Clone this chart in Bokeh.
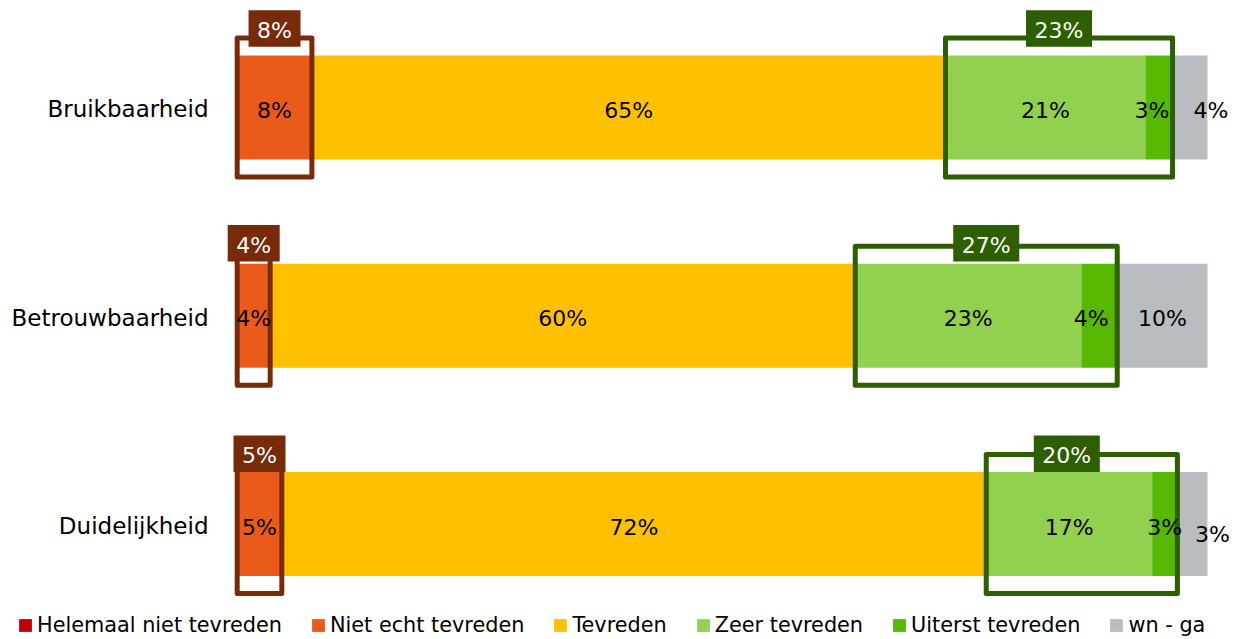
import numpy as np
from bokeh.plotting import figure
from bokeh.models import ColumnDataSource, Range1d
from bokeh.core.properties import value
from bokeh.embed import file_html
from bokeh.resources import INLINE

# ---------------- data ----------------
categories = ["Bruikbaarheid", "Betrouwbaarheid", "Duidelijkheid"]
series_names = ["Helemaal niet tevreden", "Niet echt tevreden", "Tevreden",
                "Zeer tevreden", "Uiterst tevreden", "wn - ga"]

helemaal_niet = [0.0, 0.0, 0.0]
niet_echt = [7.7, 3.4, 4.6]
tevreden = [65.3, 60.3, 72.6]
zeer = [20.6, 23.3, 17.1]
uiterst = [2.8, 3.7, 2.6]
wn_ga = [3.6, 9.3, 3.1]

lab_niet_echt = ["8%", "4%", "5%"]
lab_tevreden = ["65%", "60%", "72%"]
lab_zeer = ["21%", "23%", "17%"]
lab_uiterst = ["3%", "4%", "3%"]
lab_wn_ga = ["4%", "10%", "3%"]

neg_totals = ["8%", "4%", "5%"]
pos_totals = ["23%", "27%", "20%"]

# ---------------- style ----------------
colors = ["#C00000", "#EA5B1B", "#FFC000", "#92D050", "#56B800", "#B9BDC1"]
BROWN = "#772B0A"
DKGREEN = "#2D5E00"
FONT = "DejaVu Sans"
PX_PER_Y = 208.25          # screen pixels per category step
tag_rise_px = [79, 72.6, 70.2]      # how far each total tag sits above its bar centre
pos_tag_shift_px = [0, 0, -15]      # horizontal nudge of the positive total tag
# label nudges (series index, category index) -> (dx, dy) in px
label_nudge = {(4, 0): (-7, 0), (4, 1): (-8, 0), (5, 0): (21, 0), (5, 2): (20, -7)}

W, H = 1245, 639
p = figure(width=W, height=H, output_backend="svg", toolbar_location=None,
           x_axis_location=None, y_axis_location=None, min_border=0,
           x_range=Range1d(-24.394, 103.92), y_range=Range1d(-0.5546, 2.5138))
p.outline_line_color = None
p.xgrid.visible = False
p.ygrid.visible = False
p.background_fill_color = "white"

n = len(categories)
ypos = [n - 1 - i for i in range(n)]

series = [helemaal_niet, niet_echt, tevreden, zeer, uiterst, wn_ga]
keys = ["s%d" % i for i in range(len(series))]
data = {"y": ypos}
for k, s in zip(keys, series):
    data[k] = s
src = ColumnDataSource(data)

p.hbar_stack(keys, y="y", height=0.5, fill_color=colors, line_color=None,
             source=src, legend_label=series_names)

# boundaries
arr = np.array(series)               # (series, cats)
cum = np.cumsum(arr, axis=0)
starts = cum - arr

# outline boxes
BOX_H = 0.334
neg_left = starts[1]
neg_right = cum[1]
pos_left = starts[3]
pos_right = cum[4]
ys = np.array(ypos, dtype=float)
p.quad(left=neg_left, right=neg_right, bottom=ys - BOX_H, top=ys + BOX_H,
       fill_color=None, line_color=BROWN, line_width=5, line_join="round")
p.quad(left=pos_left, right=pos_right, bottom=ys - BOX_H, top=ys + BOX_H,
       fill_color=None, line_color=DKGREEN, line_width=5, line_join="round")

# segment labels
seg_labels = [None, lab_niet_echt, lab_tevreden, lab_zeer, lab_uiterst, lab_wn_ga]
lx, ly, lt, lxo, lyo = [], [], [], [], []
for si in range(1, len(series)):
    for ci in range(n):
        dx, dy = label_nudge.get((si, ci), (0, 0))
        lx.append((starts[si][ci] + cum[si][ci]) / 2)
        ly.append(ypos[ci])
        lt.append(seg_labels[si][ci])
        lxo.append(dx)
        lyo.append(3 - dy)
p.text(x=lx, y=ly, text=lt, x_offset=lxo, y_offset=lyo, text_align="center",
       text_baseline="middle", text_font=value(FONT), text_font_size="22px",
       text_color="#000000")

# total label boxes
rise = np.array(tag_rise_px) / PX_PER_Y
def tag(xc, labels, color, shift_px):
    widths = [24 + 14 * len(t) for t in labels]
    xs = np.asarray(xc) + np.array(shift_px) / 9.703
    p.rect(x=xs, y=ys + rise, width=widths, height=[36.5] * n,
           width_units="screen", height_units="screen",
           fill_color=color, line_color=None)
    p.text(x=xs, y=ys + rise, text=labels, y_offset=2, text_align="center",
           text_baseline="middle", text_font=value(FONT),
           text_font_size="22px", text_color="white")

tag((neg_left + neg_right) / 2, neg_totals, BROWN, [0, 0, 0])
tag((pos_left + pos_right) / 2, pos_totals, DKGREEN, pos_tag_shift_px)

# category labels
p.text(x=[0] * n, y=ypos, text=categories, x_offset=-28.7, y_offset=2,
       text_align="right", text_baseline="middle", text_font=value(FONT),
       text_font_size="23px", text_color="#000000")

# legend
lg = p.legend[0]
lg.orientation = "horizontal"
lg.location = (17, 2)
lg.padding = 0
lg.margin = 0
lg.spacing = 28
lg.glyph_width = 16
lg.glyph_height = 16
lg.label_height = 16
lg.label_standoff = 4
lg.label_text_font = FONT
lg.label_text_font_size = "20.8px"
lg.label_text_color = "#000000"
lg.background_fill_alpha = 0
lg.border_line_color = None

open("out.html", "w").write(file_html(p, INLINE))
